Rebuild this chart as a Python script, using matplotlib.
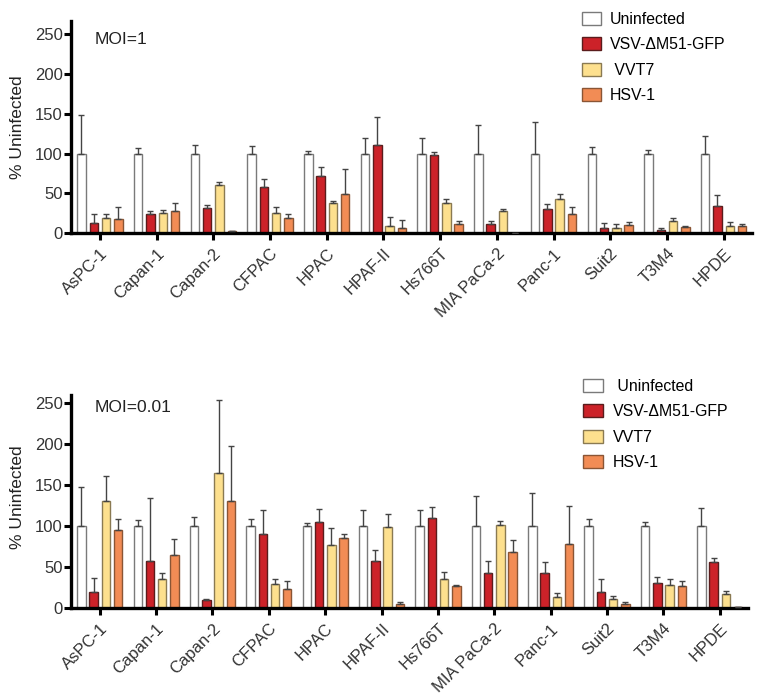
import numpy as np
import matplotlib
matplotlib.use("Agg")
import matplotlib.pyplot as plt
from matplotlib.patches import Patch

plt.rcParams['font.family'] = ['Liberation Sans', 'DejaVu Sans']

cell_lines = ['AsPC-1', 'Capan-1', 'Capan-2', 'CFPAC', 'HPAC', 'HPAF-II', 'Hs766T',
              'MIA PaCa-2', 'Panc-1', 'Suit2', 'T3M4', 'HPDE']
series = ['Uninfected', 'VSV-ΔM51-GFP', 'VVT7', 'HSV-1']

# MOI=1 : means and top of error bar
moi1_unin = [100, 100, 100, 100, 100, 100, 100, 100, 100, 100, 100, 100]
moi1_unin_top = [148, 107, 110.5, 109.7, 103, 119.7, 119.3, 136.5, 139.4, 108.4, 104.3, 121.8]
moi1_vsv = [12.6, 24.6, 31.4, 58, 72.4, 110.5, 98, 12, 31, 7, 4.1, 34]
moi1_vsv_top = [24, 27.6, 35, 68, 83.7, 146.5, 102, 15.5, 36.8, 12.5, 6.6, 47.7]
moi1_vvt7 = [18.8, 26, 60.7, 26, 37.7, 9.6, 38, 28.4, 43, 6.6, 15.9, 9.6]
moi1_vvt7_top = [24, 29, 64, 32.7, 40, 20.5, 43, 30.5, 49.4, 11.3, 19.2, 14.6]
moi1_hsv = [18, 27.6, 2.5, 19.6, 49.8, 6.6, 11.7, 0.5, 24.2, 10.4, 8.3, 9.2]
moi1_hsv_top = [33, 37.7, 3, 24.6, 80.4, 16.7, 15.9, 0.5, 32.7, 14.2, 8.8, 11.3]

# MOI=0.01
moi001_unin = [100, 100, 100, 100, 100, 100, 100, 100, 100, 100, 100, 100]
moi001_unin_top = [148, 107, 110.6, 109, 104, 119, 119, 136.5, 139.8, 108.2, 104.9, 122]
moi001_vsv = [19.4, 57.1, 10.5, 90.4, 105, 57.1, 109.8, 42.5, 43.4, 20.3, 30.8, 55.9]
moi001_vsv_top = [36.5, 133.7, 11.8, 119, 120.3, 70.5, 123.2, 57.1, 55.9, 36.1, 37.7, 60.8]
moi001_vvt7 = [130.9, 35.3, 164.1, 30, 77.4, 98.5, 35.3, 100.9, 13.4, 10.9, 28.4, 17.4]
moi001_vvt7_top = [160.5, 42.5, 254, 36, 98, 115, 44.6, 106.6, 18.2, 14.6, 36.1, 20.7]
moi001_hsv = [95.2, 64.8, 130, 23.1, 85.1, 4.9, 27.1, 68.5, 77.8, 4.9, 26.7, 1.8]
moi001_hsv_top = [109, 83.9, 196.9, 33.6, 90, 8.1, 28.8, 83, 124.4, 7.7, 32.8, 1.8]

colors = ['#ffffff', '#cc2229', '#fde08e', '#f28c55']
edges = ['#7a7a7a', '#5a1c1c', '#8a7a52', '#8a5535']


def panel(ax, means, tops, title, xright):
    x = np.arange(len(cell_lines))
    pitch, width = 0.217, 0.15
    for k in range(4):
        xs = x + (k - 1.5) * pitch
        ax.bar(xs, means[k], width=width, color=colors[k], edgecolor=edges[k],
               linewidth=1.0, zorder=2)
        up = np.array(tops[k]) - np.array(means[k])
        ax.errorbar(xs, means[k], yerr=[np.zeros(len(x)), up], fmt='none',
                    ecolor='#444444', elinewidth=1.0, capsize=2.5, capthick=1.0, zorder=3)
    ax.set_xlim(-0.51, xright)
    ax.set_xticks(x)
    ax.set_xticklabels(cell_lines, rotation=45, ha='right', rotation_mode='anchor',
                       fontsize=12, color='#333333')
    ax.set_yticks([0, 50, 100, 150, 200, 250])
    ax.tick_params(axis='y', labelsize=12, labelcolor='#333333', length=5, width=2.2, pad=1)
    ax.tick_params(axis='x', length=5, width=2.2, pad=4)
    for s in ['top', 'right']:
        ax.spines[s].set_visible(False)
    for s in ['left', 'bottom']:
        ax.spines[s].set_linewidth(2.4)
    ax.set_ylabel('% Uninfected', fontsize=12.5, color='#222222')
    ax.text(-0.09, 244, title, fontsize=12.5, va='center', ha='left', color='#222222')
    handles = [Patch(facecolor=colors[k], edgecolor=edges[k], linewidth=1.0) for k in range(4)]
    return handles


fig = plt.figure(figsize=(7.64, 7.0), dpi=100)

ax1 = fig.add_axes([71 / 764, (700 - 233.3) / 700, (752 - 71) / 764, (233.3 - 20.7) / 700])
h = panel(ax1, [moi1_unin, moi1_vsv, moi1_vvt7, moi1_hsv],
          [moi1_unin_top, moi1_vsv_top, moi1_vvt7_top, moi1_hsv_top], 'MOI=1', 11.5)
ax1.set_ylim(0, 267)
ax1.yaxis.set_label_coords(-0.0675, 0.5)
ax1.legend(h, ['Uninfected', 'VSV-ΔM51-GFP', ' VVT7', 'HSV-1'], loc='upper left',
           bbox_to_anchor=(582 / 764, 1 - 12 / 700), bbox_transform=fig.transFigure,
           frameon=False, fontsize=11.4, handlelength=1.2, handleheight=0.89,
           handletextpad=0.55, labelspacing=0.65, borderpad=0, borderaxespad=0)

ax2 = fig.add_axes([71 / 764, (700 - 608.3) / 700, (748 - 71) / 764, (608.3 - 395) / 700])
h = panel(ax2, [moi001_unin, moi001_vsv, moi001_vvt7, moi001_hsv],
          [moi001_unin_top, moi001_vsv_top, moi001_vvt7_top, moi001_hsv_top], 'MOI=0.01', 11.5)
ax2.set_ylim(0, 259.5)
ax2.yaxis.set_label_coords(-0.0685, 0.52)
ax2.legend(h, [' Uninfected', 'VSV-ΔM51-GFP', 'VVT7', 'HSV-1'], loc='upper left',
           bbox_to_anchor=(583 / 764, 1 - 379 / 700), bbox_transform=fig.transFigure,
           frameon=False, fontsize=11.4, handlelength=1.27, handleheight=0.89,
           handletextpad=0.6, labelspacing=0.65, borderpad=0, borderaxespad=0)

fig.savefig('out.png', dpi=100)
